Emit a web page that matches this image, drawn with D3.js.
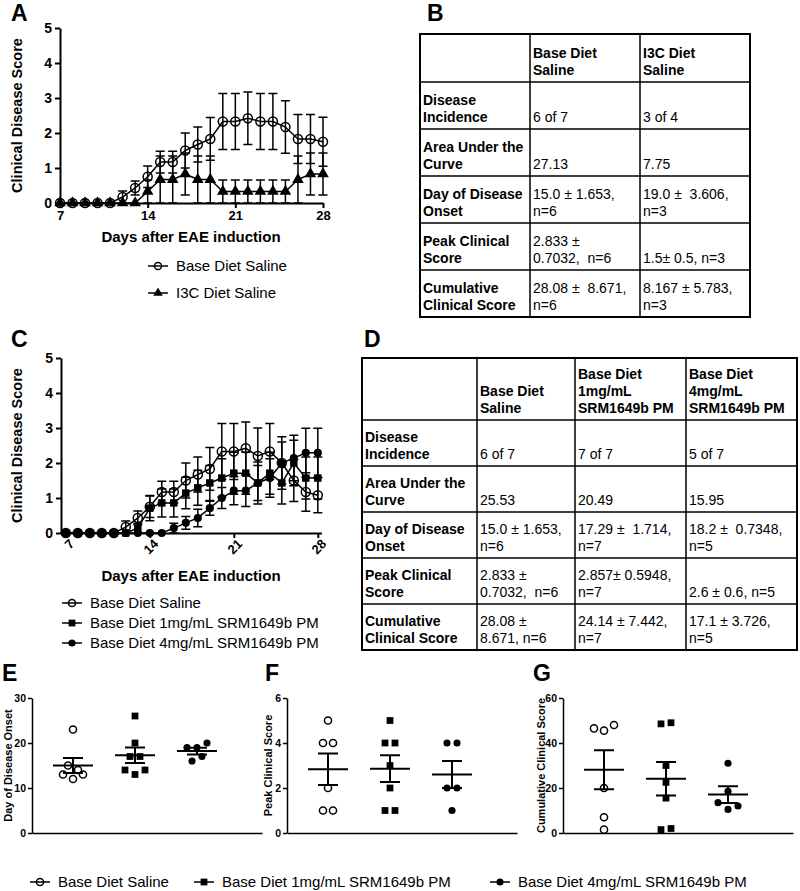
<!DOCTYPE html>
<html>
<head>
<meta charset="utf-8">
<script src="https://cdnjs.cloudflare.com/ajax/libs/d3/7.8.5/d3.min.js"></script>
<style>
body { margin: 0; background: #fff; }
svg text { white-space: pre; }
</style>
</head>
<body>
<svg id="fig" width="800" height="891"></svg>
<script>
// days after EAE induction
var days = [7, 8, 9, 10, 11, 12, 13, 14, 15, 16, 17, 18, 19, 20, 21, 22, 23, 24, 25, 26, 27, 28];
var dayTicks = [7, 14, 21, 28];

// panel A: mean clinical score and SEM
var baseA    = [0, 0, 0, 0, 0, 0.17, 0.43, 0.75, 1.17, 1.17, 1.5, 1.67, 1.83, 2.33, 2.33, 2.42, 2.33, 2.33, 2.17, 1.83, 1.83, 1.75];
var baseAErr = [0, 0, 0, 0, 0, 0.17, 0.2, 0.31, 0.31, 0.31, 0.5, 0.5, 0.61, 0.8, 0.8, 0.75, 0.8, 0.8, 0.75, 0.7, 0.7, 0.7];
var i3cA     = [0, 0, 0, 0, 0, 0, 0, 0.33, 0.67, 0.67, 0.83, 0.67, 0.67, 0.33, 0.33, 0.33, 0.33, 0.33, 0.33, 0.67, 0.83, 0.83];
var i3cAErr  = [0, 0, 0, 0, 0, 0, 0, 0.33, 0.67, 0.67, 0.6, 0.67, 0.67, 0.33, 0.33, 0.33, 0.33, 0.33, 0.33, 0.67, 0.6, 0.6];

// panel C
var baseC    = [0, 0, 0, 0, 0, 0.17, 0.43, 0.75, 1.17, 1.17, 1.5, 1.67, 1.83, 2.33, 2.33, 2.42, 2.2, 2.33, 2.0, 1.5, 1.17, 1.08];
var baseCErr = [0, 0, 0, 0, 0, 0.17, 0.2, 0.31, 0.31, 0.31, 0.5, 0.5, 0.61, 0.8, 0.8, 0.75, 0.8, 0.8, 0.75, 0.6, 0.55, 0.5];
var mg1C     = [0, 0, 0, 0, 0, 0, 0.14, 0.71, 0.86, 0.86, 1.14, 1.29, 1.43, 1.57, 1.71, 1.71, 1.43, 1.71, 1.43, 2.0, 1.57, 1.57];
var mg1CErr  = [0, 0, 0, 0, 0, 0, 0.14, 0.36, 0.4, 0.4, 0.45, 0.5, 0.5, 0.55, 0.6, 0.6, 0.6, 0.6, 0.6, 0.65, 0.6, 0.6];
var mg4C     = [0, 0, 0, 0, 0, 0, 0, 0, 0, 0.14, 0.29, 0.43, 0.71, 1.0, 1.21, 1.21, 1.43, 1.57, 2.0, 2.14, 2.29, 2.29];
var mg4CErr  = [0, 0, 0, 0, 0, 0, 0, 0, 0, 0.14, 0.18, 0.25, 0.2, 0.3, 0.4, 0.45, 0.5, 0.55, 0.6, 0.65, 0.7, 0.7];

// panels E, F, G: one value per mouse
var onsetSal = [23, 15, 14, 13, 12, 13];
var onset1mg = [26, 20, 17, 17, 14, 13, 14];
var onset4mg = [19, 19, 20, 16, 17];
var peakSal  = [5, 4, 4, 2, 1, 1];
var peak1mg  = [5, 4, 4, 3, 2, 1, 1];
var peak4mg  = [4, 4, 2, 2, 1];
var cumSal   = [46.5, 45.5, 48, 20, 7, 1.5];
var cum1mg   = [48.5, 49, 30, 22.5, 15.5, 1.5, 2];
var cum4mg   = [31, 18.5, 13.5, 10.5, 12];

var groupNames = ["Base Diet Saline", "Base Diet 1mg/mL SRM1649b PM", "Base Diet 4mg/mL SRM1649b PM"];

// tables
var tableBHead = [[""], ["Base Diet", "Saline"], ["I3C Diet", "Saline"]];
var tableBRows = [
  [["Disease", "Incidence"], ["6 of 7"], ["3 of 4"]],
  [["Area Under the", "Curve"], ["27.13"], ["7.75"]],
  [["Day of Disease", "Onset"], ["15.0 ± 1.653,", "n=6"], ["19.0 ±  3.606,", "n=3"]],
  [["Peak Clinical", "Score"], ["2.833 ±", "0.7032,  n=6"], ["1.5± 0.5, n=3"]],
  [["Cumulative", "Clinical Score"], ["28.08 ±  8.671,", "n=6"], ["8.167 ± 5.783,", "n=3"]]
];
var tableDHead = [[""], ["Base Diet", "Saline"], ["Base Diet", "1mg/mL", "SRM1649b PM"], ["Base Diet", "4mg/mL", "SRM1649b PM"]];
var tableDRows = [
  [["Disease", "Incidence"], ["6 of 7"], ["7 of 7"], ["5 of 7"]],
  [["Area Under the", "Curve"], ["25.53"], ["20.49"], ["15.95"]],
  [["Day of Disease", "Onset"], ["15.0 ± 1.653,", "n=6"], ["17.29 ±  1.714,", "n=7"], ["18.2 ±  0.7348,", "n=5"]],
  [["Peak Clinical", "Score"], ["2.833 ±", "0.7032,  n=6"], ["2.857± 0.5948,", "n=7"], ["2.6 ± 0.6, n=5"]],
  [["Cumulative", "Clinical Score"], ["28.08 ±", "8.671, n=6"], ["24.14 ± 7.442,", "n=7"], ["17.1 ± 3.726,", "n=5"]]
];

var FONT = '"Liberation Sans", Arial, Helvetica, sans-serif';
var fmt = d3.format('d');
var svg = d3.select('#fig').attr('font-family', FONT);
svg.append('rect').attr('width', 800).attr('height', 891).attr('fill', '#fff');

function symbolPath(type, big) {
  var t = { circle: d3.symbolCircle, triangle: d3.symbolTriangle, square: d3.symbolSquare, dot: d3.symbolCircle }[type];
  var s = big ? { circle: 64, triangle: 58, square: 56, dot: 52 }[type]
              : { circle: 40, triangle: 40, square: 46, dot: 40 }[type];
  return d3.symbol().type(t).size(s)();
}

function drawMarker(g, type, x, y, big, openFill) {
  var p = g.append('path').attr('d', symbolPath(type, big))
    .attr('transform', 'translate(' + x + ',' + y + ')');
  if (type == 'circle') {
    p.attr('fill', openFill).attr('stroke', '#000').attr('stroke-width', 1.5);
  } else {
    p.attr('fill', '#000');
  }
}

function styleAxis(sel, size) {
  sel.attr('font-family', FONT);
  sel.select('.domain').attr('stroke-width', 2);
  sel.selectAll('.tick line').attr('stroke-width', 2);
  sel.selectAll('.tick text').attr('font-size', size).attr('font-weight', 'bold').attr('fill', '#000');
}

function letter(t, x, y) {
  svg.append('text').attr('x', x).attr('y', y).text(t)
    .attr('font-size', 23).attr('font-weight', 'bold');
}

function legendItem(type, x, y, label) {
  var g = svg.append('g');
  g.append('line').attr('x1', x - 10).attr('x2', x + 10).attr('y1', y).attr('y2', y)
    .attr('stroke', '#000').attr('stroke-width', 1.5);
  drawMarker(g, type, x, y, false, 'none');
  g.append('text').attr('x', x + 18).attr('y', y).attr('dy', '0.35em')
    .attr('font-size', 15).text(label);
}

function linePanel(o) {
  var g = svg.append('g');
  var x = o.x, y = o.y;
  o.series.forEach(function(s) {
    var pts = days.map(function(d, i) { return { d: d, v: s.vals[i], e: s.errs[i] }; });
    g.append('g').selectAll('path').data(pts.filter(function(p) { return p.e > 0; }))
      .enter().append('path')
      .attr('d', function(p) {
        var px = x(p.d), y1 = y(Math.max(0, p.v - p.e)), y2 = y(p.v + p.e);
        return 'M' + px + ',' + y1 + 'V' + y2 + 'M' + (px - 4.5) + ',' + y1 + 'h9M' + (px - 4.5) + ',' + y2 + 'h9';
      })
      .attr('stroke', '#000').attr('stroke-width', 1.5).attr('fill', 'none');
    g.append('path').datum(pts)
      .attr('d', d3.line().x(function(p) { return x(p.d); }).y(function(p) { return y(p.v); }))
      .attr('fill', 'none').attr('stroke', '#000').attr('stroke-width', 1.5);
  });
  o.series.forEach(function(s) {
    days.forEach(function(d, i) { drawMarker(g, s.type, x(d), y(s.vals[i]), true, 'none'); });
  });

  var xa = g.append('g').attr('transform', 'translate(0,' + y(0) + ')')
    .call(d3.axisBottom(x).tickValues(dayTicks).tickFormat(fmt).tickSize(5).tickSizeOuter(0));
  styleAxis(xa, 13);
  if (o.rotate) {
    xa.selectAll('.tick text').attr('x', -2).attr('y', 10).attr('dy', '0.35em')
      .attr('text-anchor', 'end').attr('transform', 'rotate(-45)');
  }
  var ya = g.append('g').attr('transform', 'translate(' + x.range()[0] + ',0)')
    .call(d3.axisLeft(y).tickValues([0, 1, 2, 3, 4, 5]).tickFormat(fmt).tickSize(5).tickSizeOuter(0));
  styleAxis(ya, 14);

  g.append('text').attr('transform', 'translate(17,' + (y(2.5)) + ') rotate(-90)')
    .attr('text-anchor', 'middle').attr('dy', '0.35em')
    .attr('font-size', 14.5).attr('font-weight', 'bold').text('Clinical Disease Score');
  g.append('text').attr('x', 191).attr('y', o.titleY).attr('dy', '0.35em')
    .attr('text-anchor', 'middle').attr('font-size', 15).attr('font-weight', 'bold')
    .text('Days after EAE induction');
}

// points with close values are spread sideways, centred on the group
function swarm(vals, y, gap) {
  var pts = vals.map(function(v, i) { return { v: v, i: i, py: y(v), dx: 0 }; });
  var sorted = pts.slice().sort(function(a, b) { return b.py - a.py; });
  var clusters = [];
  sorted.forEach(function(p) {
    var c = clusters[clusters.length - 1];
    if (c && Math.abs(p.py - c[0].py) < 9) c.push(p); else clusters.push([p]);
  });
  clusters.forEach(function(c) {
    c.sort(function(a, b) { return a.i - b.i; });
    c.forEach(function(p, k) { p.dx = (k - (c.length - 1) / 2) * gap; });
  });
  return pts;
}

function scatterPanel(o) {
  var g = svg.append('g');
  var y = d3.scaleLinear().domain(o.domain).range([833, 698]);
  var gx = d3.scaleLinear().domain([0, 2]).range([o.a + 41, o.a + 165]);
  var axisX = d3.scaleLinear().domain([0, 1]).range([o.a, o.a + 230]);
  var types = ['circle', 'square', 'dot'];

  o.groups.forEach(function(vals, gi) {
    var cx = gx(gi);
    swarm(vals, y, 10).forEach(function(p) {
      drawMarker(g, types[gi], cx + p.dx, p.py, false, '#fff');
    });
    var m = d3.mean(vals), sem = d3.deviation(vals) / Math.sqrt(vals.length);
    var ym = y(m), y1 = y(m - sem), y2 = y(m + sem);
    g.append('path')
      .attr('d', 'M' + (cx - 20) + ',' + ym + 'h40' +
                 'M' + cx + ',' + y1 + 'V' + y2 +
                 'M' + (cx - 10) + ',' + y1 + 'h20' +
                 'M' + (cx - 10) + ',' + y2 + 'h20')
      .attr('stroke', '#000').attr('stroke-width', 2).attr('fill', 'none');
  });

  var xa = g.append('g').attr('transform', 'translate(0,' + y(0) + ')')
    .call(d3.axisBottom(axisX).tickValues([]).tickSizeOuter(0));
  styleAxis(xa, 10);
  xa.select('.domain').attr('stroke-width', 1.5);
  var ya = g.append('g').attr('transform', 'translate(' + o.a + ',0)')
    .call(d3.axisLeft(y).tickValues(o.ticks).tickFormat(fmt).tickSize(4).tickSizeOuter(0).tickPadding(2));
  styleAxis(ya, 10.5);
  ya.select('.domain').attr('stroke-width', 1.5);
  ya.selectAll('.tick line').attr('stroke-width', 1.5);

  g.append('text').attr('transform', 'translate(' + o.titleX + ',' + y((o.domain[0] + o.domain[1]) / 2) + ') rotate(-90)')
    .attr('text-anchor', 'middle').attr('dy', '0.35em')
    .attr('font-size', 11).attr('font-weight', 'bold').text(o.title);
}

function drawTable(o) {
  var g = svg.append('g');
  var cols = o.cols, rows = o.rows;
  var x0 = cols[0], x1 = cols[cols.length - 1], y0 = rows[0], y1 = rows[rows.length - 1];
  cols.slice(1, -1).forEach(function(cx) {
    g.append('line').attr('x1', cx).attr('x2', cx).attr('y1', y0).attr('y2', y1)
      .attr('stroke', '#000').attr('stroke-width', 1.5);
  });
  rows.slice(1, -1).forEach(function(ry) {
    g.append('line').attr('x1', x0).attr('x2', x1).attr('y1', ry).attr('y2', ry)
      .attr('stroke', '#000').attr('stroke-width', 1.5);
  });
  g.append('rect').attr('x', x0).attr('y', y0).attr('width', x1 - x0).attr('height', y1 - y0)
    .attr('fill', 'none').attr('stroke', '#000').attr('stroke-width', 2);

  var all = [o.head].concat(o.body);
  all.forEach(function(row, r) {
    row.forEach(function(lines, c) {
      var n = lines.length;
      lines.forEach(function(t, k) {
        g.append('text').attr('x', cols[c] + 3)
          .attr('y', rows[r + 1] - 7 - (n - 1 - k) * 17)
          .attr('font-size', 14)
          .attr('font-weight', (r == 0 || c == 0) ? 'bold' : 'normal')
          .text(t);
      });
    });
  });
}

// ---- A
letter('A', 11, 21);
linePanel({
  x: d3.scaleLinear().domain([7, 28]).range([60, 323]),
  y: d3.scaleLinear().domain([0, 5]).range([203, 28]),
  series: [
    { vals: baseA, errs: baseAErr, type: 'circle' },
    { vals: i3cA, errs: i3cAErr, type: 'triangle' }
  ],
  titleY: 237
});
legendItem('circle', 158, 266, 'Base Diet Saline');
legendItem('triangle', 158, 293, 'I3C Diet Saline');

// ---- B
letter('B', 427, 21);
drawTable({ cols: [420, 530, 640, 750], rows: [34, 82, 129, 176, 223, 270, 317],
            head: tableBHead, body: tableBRows });

// ---- C
letter('C', 11, 347);
linePanel({
  x: d3.scaleLinear().domain([6.6, 28.3]).range([61, 321.4]),
  y: d3.scaleLinear().domain([0, 5]).range([533, 358]),
  series: [
    { vals: baseC, errs: baseCErr, type: 'circle' },
    { vals: mg1C, errs: mg1CErr, type: 'square' },
    { vals: mg4C, errs: mg4CErr, type: 'dot' }
  ],
  rotate: true,
  titleY: 576
});
legendItem('circle', 72, 603, groupNames[0]);
legendItem('square', 72, 623, groupNames[1]);
legendItem('dot', 72, 643, groupNames[2]);

// ---- D
letter('D', 364, 347);
drawTable({ cols: [362, 477, 575, 686, 797], rows: [358, 420, 466, 512, 558, 604, 650],
            head: tableDHead, body: tableDRows });

// ---- E, F, G
letter('E', 2, 681);
scatterPanel({ a: 32, domain: [0, 30], ticks: [0, 10, 20, 30], title: 'Day of Disease Onset', titleX: 8,
               groups: [onsetSal, onset1mg, onset4mg] });
letter('F', 265, 681);
scatterPanel({ a: 287, domain: [0, 6], ticks: [0, 2, 4, 6], title: 'Peak Clinical Score', titleX: 268,
               groups: [peakSal, peak1mg, peak4mg] });
letter('G', 533, 681);
scatterPanel({ a: 563, domain: [0, 60], ticks: [0, 20, 40, 60], title: 'Cumulative Clinical Score', titleX: 541,
               groups: [cumSal, cum1mg, cum4mg] });

// bottom legend
legendItem('circle', 40, 882, groupNames[0]);
legendItem('square', 204, 882, groupNames[1]);
legendItem('dot', 500, 882, groupNames[2]);
</script>
</body>
</html>
